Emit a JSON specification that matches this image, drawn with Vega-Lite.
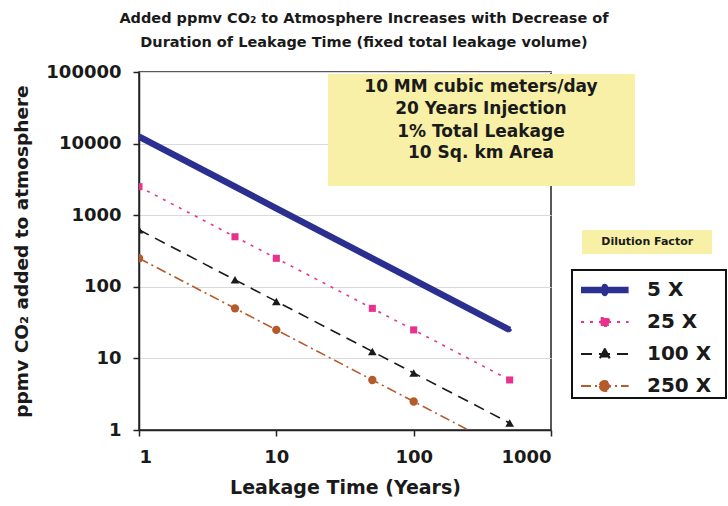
{
  "$schema": "https://vega.github.io/schema/vega-lite/v6.json",
  "width": 412,
  "height": 358,
  "autosize": {"type": "none"},
  "padding": {"left": 139, "top": 72, "right": 177, "bottom": 76},
  "background": "white",
  "title": {
    "text": ["Added ppmv CO₂ to Atmosphere Increases with Decrease of", "Duration of Leakage Time (fixed total leakage volume)"],
    "font": "DejaVu Sans",
    "fontSize": 14.5,
    "fontWeight": "bold",
    "color": "#1a1a1a",
    "anchor": "middle",
    "dx": 19,
    "lineHeight": 24,
    "offset": 13
  },
  "config": {
    "view": {"stroke": "#222", "strokeWidth": 1.5},
    "axis": {
      "labelFont": "DejaVu Sans",
      "labelFontWeight": "bold",
      "labelFontSize": 18,
      "labelColor": "#1a1a1a",
      "titleFont": "DejaVu Sans",
      "titleFontWeight": "bold",
      "titleColor": "#1a1a1a",
      "domainColor": "#222",
      "domainWidth": 1.5,
      "tickColor": "#222",
      "tickWidth": 1.5,
      "tickSize": 6,
      "gridColor": "#d9d9d9",
      "gridWidth": 1
    }
  },
  "data": {
    "values": [
      {"factor": "5 X", "t": 1, "ppmv": 12500},
      {"factor": "5 X", "t": 5, "ppmv": 2500},
      {"factor": "5 X", "t": 10, "ppmv": 1250},
      {"factor": "5 X", "t": 50, "ppmv": 250},
      {"factor": "5 X", "t": 100, "ppmv": 125},
      {"factor": "5 X", "t": 500, "ppmv": 25},
      {"factor": "25 X", "t": 1, "ppmv": 2500},
      {"factor": "25 X", "t": 5, "ppmv": 500},
      {"factor": "25 X", "t": 10, "ppmv": 250},
      {"factor": "25 X", "t": 50, "ppmv": 50},
      {"factor": "25 X", "t": 100, "ppmv": 25},
      {"factor": "25 X", "t": 500, "ppmv": 5},
      {"factor": "100 X", "t": 1, "ppmv": 625},
      {"factor": "100 X", "t": 5, "ppmv": 125},
      {"factor": "100 X", "t": 10, "ppmv": 62.5},
      {"factor": "100 X", "t": 50, "ppmv": 12.5},
      {"factor": "100 X", "t": 100, "ppmv": 6.25},
      {"factor": "100 X", "t": 500, "ppmv": 1.25},
      {"factor": "250 X", "t": 1, "ppmv": 250},
      {"factor": "250 X", "t": 5, "ppmv": 50},
      {"factor": "250 X", "t": 10, "ppmv": 25},
      {"factor": "250 X", "t": 50, "ppmv": 5},
      {"factor": "250 X", "t": 100, "ppmv": 2.5},
      {"factor": "250 X", "t": 500, "ppmv": 0.5}
    ]
  },
  "layer": [
    {
      "mark": {"type": "line", "clip": true, "strokeWidth": 1.6},
      "encoding": {
        "x": {"field": "t", "type": "quantitative", "scale": {"type": "log", "domain": [1, 1000]},
              "axis": {"title": "Leakage Time (Years)", "titleFontSize": 19, "titlePadding": 12, "grid": false, "values": [1, 10, 100, 1000], "labelPadding": 12, "format": "d"}},
        "y": {"field": "ppmv", "type": "quantitative", "scale": {"type": "log", "domain": [1, 100000]},
              "axis": {"title": "ppmv CO₂ added to atmosphere", "titleFontSize": 18.5, "titlePadding": 14, "grid": true, "values": [1, 10, 100, 1000, 10000, 100000], "labelPadding": 12, "format": "d"}},
        "color": {"field": "factor", "type": "nominal",
                  "scale": {"domain": ["5 X", "25 X", "100 X", "250 X"], "range": ["#2b2f8f", "#e8328e", "#1a1a1a", "#b55a2b"]},
                  "legend": {
                    "title": null, "orient": "none", "legendX": 446, "legendY": 208,
                    "padding": 0, "strokeColor": null, "fillColor": null, "gridAlign": "all",
                    "labelFont": "DejaVu Sans", "labelFontSize": 20, "labelFontWeight": "bold", "labelColor": "#1a1a1a",
                    "symbolSize": 784, "rowPadding": 12, "labelOffset": 42, "symbolStrokeWidth": 2,
                    "encode": {
                      "symbols": {"update": {
                        "shape": {"signal": "datum.value === '5 X' ? 'M-1,0H2.4M0.7,-0.2L0.76,0L0.7,0.2L0.64,0Z' : datum.value === '25 X' ? 'M-1,0H2.4M0.41,-0.29H0.99V0.29H0.41Z' : datum.value === '100 X' ? 'M-1,0H2.4M0.7,-0.36L1.03,0.25L0.37,0.25Z' : 'M-1,0H2.4M0.34,0A0.36,0.36 0 1,0 1.06,0A0.36,0.36 0 1,0 0.34,0Z'"},
                        "strokeWidth": {"signal": "datum.value === '5 X' ? 6.5 : 2"},
                        "strokeJoin": {"value": "round"},
                        "fill": {"signal": "scale('color', datum.value)"},
                        "fillOpacity": {"value": 1}
                      }}
                    }
                  }},
        "strokeDash": {"field": "factor", "type": "nominal", "scale": {"domain": ["5 X", "25 X", "100 X", "250 X"], "range": [[1, 0], [3, 6], [11, 7], [10, 4, 2, 4]]}, "legend": null}
      }
    },
    {
      "transform": [{"filter": "datum.factor === '5 X'"}],
      "mark": {"type": "line", "clip": true, "strokeWidth": 6.5, "color": "#2b2f8f"},
      "encoding": {
        "x": {"field": "t", "type": "quantitative", "title": "Leakage Time (Years)"},
        "y": {"field": "ppmv", "type": "quantitative", "title": "ppmv CO₂ added to atmosphere"}
      }
    },
    {
      "transform": [{"filter": "datum.factor === '5 X'"}],
      "mark": {"type": "point", "filled": true, "opacity": 1, "clip": true, "shape": "diamond", "size": 25, "color": "#2b2f8f"},
      "encoding": {
        "x": {"field": "t", "type": "quantitative", "title": "Leakage Time (Years)"},
        "y": {"field": "ppmv", "type": "quantitative", "title": "ppmv CO₂ added to atmosphere"}
      }
    },
    {
      "transform": [{"filter": "datum.factor === '25 X'"}],
      "mark": {"type": "point", "filled": true, "opacity": 1, "clip": true, "shape": "square", "size": 50, "color": "#e8328e"},
      "encoding": {
        "x": {"field": "t", "type": "quantitative", "title": "Leakage Time (Years)"},
        "y": {"field": "ppmv", "type": "quantitative", "title": "ppmv CO₂ added to atmosphere"}
      }
    },
    {
      "transform": [{"filter": "datum.factor === '100 X'"}],
      "mark": {"type": "point", "filled": true, "opacity": 1, "clip": true, "shape": "triangle-up", "size": 75, "color": "#1a1a1a"},
      "encoding": {
        "x": {"field": "t", "type": "quantitative", "title": "Leakage Time (Years)"},
        "y": {"field": "ppmv", "type": "quantitative", "title": "ppmv CO₂ added to atmosphere"}
      }
    },
    {
      "transform": [{"filter": "datum.factor === '250 X'"}],
      "mark": {"type": "point", "filled": true, "opacity": 1, "clip": true, "shape": "circle", "size": 70, "color": "#b55a2b"},
      "encoding": {
        "x": {"field": "t", "type": "quantitative", "title": "Leakage Time (Years)"},
        "y": {"field": "ppmv", "type": "quantitative", "title": "ppmv CO₂ added to atmosphere"}
      }
    },
    {
      "data": {"values": [{"bx1": 23.8, "bx2": 4090, "by1": 2557, "by2": 93800}, {"bx1": 1683, "bx2": 14900, "by1": 287, "by2": 621}]},
      "mark": {"type": "rect", "clip": false, "fill": "#f7f0a6"},
      "encoding": {
        "x": {"field": "bx1", "type": "quantitative", "title": "Leakage Time (Years)"},
        "x2": {"field": "bx2"},
        "y": {"field": "by1", "type": "quantitative", "title": "ppmv CO₂ added to atmosphere"},
        "y2": {"field": "by2"}
      }
    },
    {
      "data": {"values": [{"lx1": 1422, "lx2": 18800, "ly1": 2.8, "ly2": 171.7}]},
      "mark": {"type": "rect", "clip": false, "fill": "white", "stroke": "#111", "strokeWidth": 2},
      "encoding": {
        "x": {"field": "lx1", "type": "quantitative", "title": "Leakage Time (Years)"},
        "x2": {"field": "lx2"},
        "y": {"field": "ly1", "type": "quantitative", "title": "ppmv CO₂ added to atmosphere"},
        "y2": {"field": "ly2"}
      }
    },
    {
      "data": {"values": [
        {"tx": 309, "ty": 61700, "label": "10 MM cubic meters/day"},
        {"tx": 309, "ty": 30400, "label": "20 Years Injection"},
        {"tx": 309, "ty": 14500, "label": "1% Total Leakage"},
        {"tx": 309, "ty": 7390, "label": "10 Sq. km Area"}
      ]},
      "mark": {"type": "text", "clip": false, "font": "DejaVu Sans", "fontWeight": "bold", "fontSize": 17, "color": "#1a1a1a", "align": "center", "baseline": "middle"},
      "encoding": {
        "x": {"field": "tx", "type": "quantitative", "title": "Leakage Time (Years)"},
        "y": {"field": "ty", "type": "quantitative", "title": "ppmv CO₂ added to atmosphere"},
        "text": {"field": "label"}
      }
    },
    {
      "data": {"values": [{"tx": 5020, "ty": 423, "label": "Dilution Factor"}]},
      "mark": {"type": "text", "clip": false, "font": "DejaVu Sans", "fontWeight": "bold", "fontSize": 11, "color": "#1a1a1a", "align": "center", "baseline": "middle"},
      "encoding": {
        "x": {"field": "tx", "type": "quantitative", "title": "Leakage Time (Years)"},
        "y": {"field": "ty", "type": "quantitative", "title": "ppmv CO₂ added to atmosphere"},
        "text": {"field": "label"}
      }
    }
  ]
}
